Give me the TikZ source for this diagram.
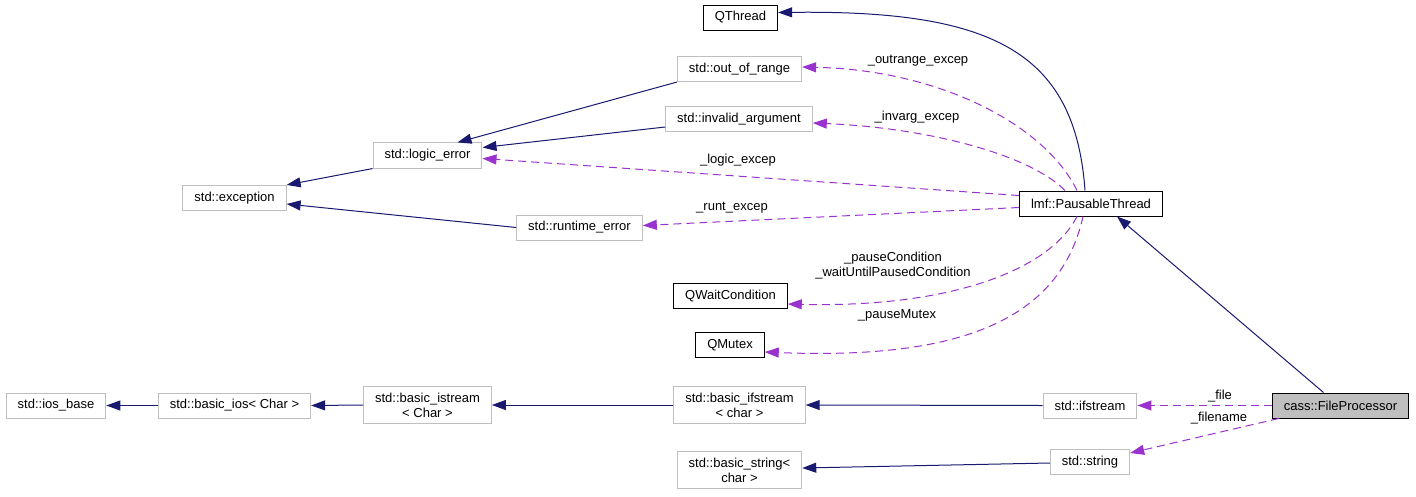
\documentclass[tikz,border=0pt]{standalone}
\usepackage{fontspec}
\setmainfont{Liberation Sans}
\usetikzlibrary{arrows.meta,calc}
\definecolor{edgenavy}{HTML}{191970}
\definecolor{edgepurple}{HTML}{9A32CD}
\definecolor{boxgray}{HTML}{BFBFBF}

\begin{document}
\begin{tikzpicture}[
            x=1pt, y=-1pt,
            every node/.style={font=\fontsize{13}{15}\selectfont},
            nd/.style={draw=boxgray, line width=1pt, align=center, inner xsep=11.5pt, inner ysep=6.5pt, minimum height=25pt},
            bnd/.style={nd, draw=black},
            lbl/.style={inner sep=0pt, align=center},
            inh/.style={edgenavy, line width=1pt, -{Triangle[length=14pt,width=10pt]}},
            mem/.style={edgepurple, line width=1pt, dash pattern=on 8pt off 5pt, -{Triangle[length=14pt,width=10pt]}},
        ]
            \useasboundingbox (0,0) rectangle (1416,496);
            % classes
            \node[bnd] (qthread) at (740.5,17.5) {QThread};
            \node[nd] (outrange) at (739.5,69) {std::out\_of\_range};
            \node[nd] (invarg) at (739,119) {std::invalid\_argument};
            \node[nd] (logicerr) at (427.5,155.5) {std::logic\_error};
            \node[nd] (exception) at (234.5,198) {std::exception};
            \node[bnd] (pausable) at (1091,203.5) {lmf::PausableThread};
            \node[nd] (runterr) at (579.5,227.5) {std::runtime\_error};
            \node[bnd] (waitcond) at (730.5,296) {QWaitCondition};
            \node[bnd] (mutex) at (730,345) {QMutex};
            \node[nd] (iosbase) at (56,405.5) {std::ios\_base};
            \node[nd] (basicios) at (234.5,405.5) {std::basic\_ios< Char >};
            \node[nd] (istream) at (427.5,405) {std::basic\_istream\\< Char >};
            \node[nd] (ifstreamb) at (739.5,405) {std::basic\_ifstream\\< char >};
            \node[nd] (ifstream) at (1090,405.5) {std::ifstream};
            \node[bnd, fill=boxgray] (fileproc) at (1340.5,405.5) {cass::FileProcessor};
            \node[nd] (basicstring) at (739.5,470) {std::basic\_string<\\char >};
            \node[nd] (string) at (1090,462) {std::string};
            % inheritance
            \draw[inh] ($(pausable.north)+(-6,0)$) .. controls (1075,50) and (990,10) .. ($(qthread.east)+(0,-5)$);
            \draw[inh] (outrange.south west) -- ($(logicerr.north east)+(-25,0)$);
            \draw[inh] ($(invarg.west)+(0,8)$) -- ($(logicerr.east)+(0,-8)$);
            \draw[inh] (logicerr.south west) -- (exception.north east);
            \draw[inh] (runterr.west) -- ($(exception.east)+(0,6)$);
            \draw[inh] ($(fileproc.north)+(-17,0)$) -- ($(pausable.south)+(26,0)$);
            \draw[inh] (ifstream.west) -- (ifstreamb.east);
            \draw[inh] (ifstreamb.west) -- (istream.east);
            \draw[inh] (istream.west) -- (basicios.east);
            \draw[inh] (basicios.west) -- (iosbase.east);
            \draw[inh] ($(string.west)+(0,1)$) -- ($(basicstring.east)+(0,-2)$);
            % members
            \draw[mem] ($(pausable.north)+(-14,0)$) .. controls (1045,125) and (940,70) .. ($(outrange.east)+(0,-2)$);
            \draw[mem] ($(pausable.north)+(-26,0)$) .. controls (1030,155) and (930,128) .. ($(invarg.east)+(0,4)$);
            \draw[mem] ($(pausable.west)+(0,-8)$) -- ($(logicerr.east)+(0,3)$);
            \draw[mem] ($(pausable.west)+(0,4)$) -- ($(runterr.east)+(0,-2)$);
            \draw[mem] ($(pausable.south)+(-14,0)$) .. controls (1050,270) and (950,308) .. ($(waitcond.east)+(0,8)$);
            \draw[mem] ($(pausable.south)+(-8,0)$) .. controls (1060,320) and (960,360) .. ($(mutex.east)+(0,7)$);
            \draw[mem] (fileproc.west) -- (ifstream.east);
            \draw[mem] ($(fileproc.south west)+(7,0)$) -- ($(string.east)+(0,-9)$);
            % member labels
            \node[lbl] (loutrange) at (918,61) {\_outrange\_excep};
            \node[lbl] (linvarg) at (917,117) {\_invarg\_excep};
            \node[lbl] (llogic) at (738,160) {\_logic\_excep};
            \node[lbl] (lrunt) at (732,208) {\_runt\_excep};
            \node[lbl] (lwait) at (893,266) {\_pauseCondition\\\_waitUntilPausedCondition};
            \node[lbl] (lmutex) at (897,315) {\_pauseMutex};
            \node[lbl] (lfile) at (1220,396) {\_file};
            \node[lbl] (lfilename) at (1219,418) {\_filename};
        \end{tikzpicture}
\end{document}
